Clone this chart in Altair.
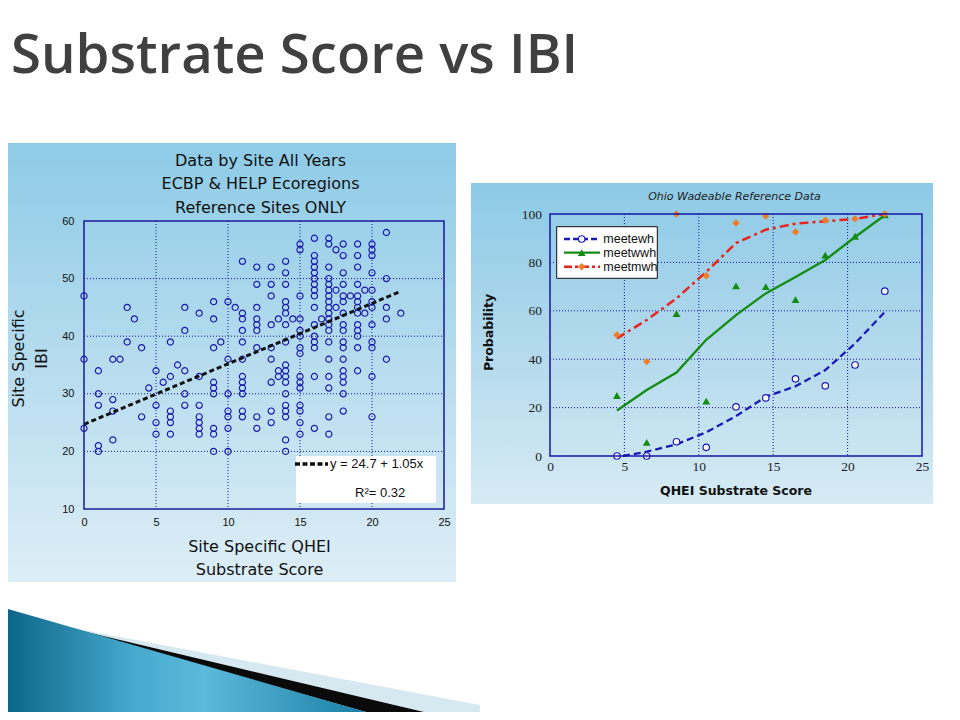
import altair as alt
import pandas as pd

# ---------------- left panel: site data ----------------
site_qhei = [0, 1, 2, 2.5, 3, 3.5, 4, 4.5, 5, 5.5, 6, 6.5, 7, 8, 9, 9.5, 10, 10.5,
             11, 12, 13, 13.5, 14, 14.5, 15, 16, 16.5, 17, 17.5, 18, 18.5, 19, 19.5,
             20, 21, 22]
site_ibi = [
    [47, 36, 24],
    [34, 30, 28, 21, 20],
    [36, 29, 27, 22],
    [36],
    [45, 39],
    [43],
    [38, 26],
    [31],
    [34, 28, 25, 23],
    [32],
    [39, 33, 27, 26, 25, 23],
    [35],
    [45, 41, 34, 30, 28],
    [44, 33, 28, 26, 25, 24, 23],
    [46, 43, 38, 32, 31, 30, 24, 23, 20],
    [39],
    [46, 36, 30, 27, 26, 24, 20],
    [45],
    [53, 44, 43, 41, 39, 36, 33, 32, 31, 30, 27, 26],
    [52, 49, 45, 43, 42, 41, 38, 26, 24],
    [52, 49, 47, 42, 38, 36, 32, 27, 25],
    [43, 34, 33],
    [53, 51, 49, 46, 45, 44, 42, 39, 35, 34, 33, 32, 30, 28, 27, 26, 22, 20],
    [43],
    [56, 55, 47, 43, 41, 40, 38, 37, 33, 32, 31, 28, 27, 25, 23],
    [57, 54, 53, 52, 51, 50, 49, 48, 47, 45, 42, 40, 39, 38, 33, 24],
    [43],
    [57, 56, 52, 50, 49, 48, 47, 46, 45, 44, 43, 42, 41, 39, 36, 33, 31, 26, 23],
    [55, 48, 45],
    [56, 54, 51, 49, 47, 46, 44, 42, 41, 39, 38, 36, 34, 33, 32, 30, 27],
    [47],
    [56, 54, 52, 49, 47, 46, 45, 44, 42, 41, 40, 38, 34],
    [48, 44],
    [56, 55, 54, 51, 48, 46, 45, 42, 39, 38, 33, 26],
    [58, 50, 45, 43, 36],
    [44],
]
reg_x = [0, 22]
reg_y = [24.7, 47.8]
left_x_ticks = [0, 5, 10, 15, 20, 25]
left_y_ticks = [10, 20, 30, 40, 50, 60]
left_x_grid = [5, 10, 15, 20]
left_y_grid = [20, 30, 40, 50]

# ---------------- right panel: probability data ----------------
bin_x = [4.5, 6.5, 8.5, 10.5, 12.5, 14.5, 16.5, 18.5, 20.5, 22.5]
ewh_obs = [0, 0, 5.9, 3.6, 20.3, 24, 31.9, 29, 37.6, 68.1]
wwh_obs = [25, 5.6, 58.8, 22.7, 70.3, 70, 64.6, 83, 90.8, 99.7]
mwh_obs = [50, 39, 100, 74.5, 96.3, 99.2, 92.6, 97.4, 98, 100]
ewh_fit_x = [4.9, 6.5, 8.5, 10.5, 12.5, 14.5, 16.5, 18.5, 20.5, 22.5]
ewh_fit = [0, 1.8, 4.8, 9.8, 16.5, 24.5, 28.8, 35.5, 46.5, 59.5]
wwh_fit = [18.8, 27.3, 34.5, 48, 58.2, 67.2, 74, 81, 90.5, 99.5]
mwh_fit = [48.6, 56.2, 65.1, 76.1, 88, 93.5, 96, 97, 98, 100]
right_x_ticks = [0, 5, 10, 15, 20, 25]
right_y_ticks = [0, 20, 40, 60, 80, 100]
right_x_grid = [5, 10, 15, 20]
right_y_grid = [20, 40, 60, 80]

one = pd.DataFrame({"k": [0]})

def vgrad(c0, c1, c2):
    return alt.Gradient(gradient="linear", x1=0, y1=0, x2=0, y2=1,
                        stops=[alt.GradientStop(color=c0, offset=0),
                               alt.GradientStop(color=c1, offset=0.5),
                               alt.GradientStop(color=c2, offset=1)])

def box(x0, x1, y0, y1, **kw):
    return alt.Chart(one).mark_rect(**kw).encode(
        x=alt.value(x0), x2=alt.value(x1), y=alt.value(y0), y2=alt.value(y1))

def label(txt, x, y, **kw):
    return alt.Chart(one).mark_text(text=txt, **kw).encode(x=alt.value(x), y=alt.value(y))

def hrule(x0, x1, y, **kw):
    return alt.Chart(one).mark_rule(**kw).encode(
        x=alt.value(x0), x2=alt.value(x1), y=alt.value(y))

# ======================= LEFT CHART =======================
LW, LH, LTOP = 360, 295, 7
xs_l = alt.Scale(domain=[0, 25], nice=False, zero=False)
ys_l = alt.Scale(domain=[10, 60], nice=False, zero=False, range=[LH, LTOP])
xax_l = alt.Axis(values=left_x_ticks, grid=False, domain=False, ticks=False, tickSize=0,
                 labelFont="Liberation Sans", labelFontSize=11, labelColor="#111111",
                 labelPadding=7.5, labelFlush=False, labelOverlap=False,
                 title=["Site Specific QHEI", "Substrate Score"], titleFont="DejaVu Sans",
                 titleFontSize=16, titleFontWeight="normal", titleColor="#111111",
                 titleX=175, titleY=29, titleBaseline="top", titleAlign="center",
                 titleLineHeight=23, zindex=1)
yax_l = alt.Axis(values=left_y_ticks, grid=False, domain=False, ticks=False, tickSize=0,
                 labelFont="Liberation Sans", labelFontSize=11, labelColor="#111111",
                 labelPadding=10, labelOverlap=False,
                 title=["Site Specific", "IBI"], titleFont="DejaVu Sans",
                 titleFontSize=16, titleFontWeight="normal", titleColor="#111111",
                 titleX=-74, titleY=144, titleBaseline="top", titleAlign="center",
                 titleAngle=270, titleLineHeight=23, zindex=1)

scatter_df = pd.DataFrame([(x, y) for x, ys in zip(site_qhei, site_ibi) for y in ys],
                          columns=["qhei", "ibi"])
reg_df = pd.DataFrame({"qhei": reg_x, "ibi": reg_y})
lxg = pd.DataFrame({"qhei": left_x_grid})
lyg = pd.DataFrame({"ibi": left_y_grid})

X_l = alt.X("qhei:Q", scale=xs_l, axis=xax_l)
Y_l = alt.Y("ibi:Q", scale=ys_l, axis=yax_l)

# slide background and slide art (positions relative to slide origin)
OX, OY = -76, -206
slide_bg = box(OX, OX + 944, OY, OY + 704, color="white")
teal = alt.Gradient(gradient="linear", x1=0, y1=0, x2=1, y2=0,
                    stops=[alt.GradientStop(color="#0d6688", offset=0),
                           alt.GradientStop(color="#45a9cd", offset=0.35),
                           alt.GradientStop(color="#5cbadb", offset=0.55),
                           alt.GradientStop(color="#1a7fa5", offset=1)])
def art(path, fill):
    return alt.Chart(one).mark_point(shape=path, size=4, filled=True, fill=fill,
                                     strokeWidth=0, opacity=1).encode(
        x=alt.value(OX), y=alt.value(OY))
art_light = art("M49,617 L472,697 L472,704 L416,704 Z", "#d6e9f1")
art_black = art("M49,617 L416,704 L358,704 Z", "#0a0a0a")
art_teal = art("M0,601 L358,704 L0,704 Z", teal)

left_bg = box(-76, 372, -71, 368, fill=vgrad("#8ecbe7", "#b6dcee", "#ddeef6"))

lgrid_x = alt.Chart(lxg).mark_rule(color="#1414a8", strokeWidth=1, strokeDash=[1, 2]).encode(
    x=X_l, y=alt.value(LTOP), y2=alt.value(LH))
lgrid_y = alt.Chart(lyg).mark_rule(color="#1414a8", strokeWidth=1, strokeDash=[1, 2]).encode(
    y=Y_l, x=alt.value(0), x2=alt.value(LW))

pts = alt.Chart(scatter_df).mark_point(shape="circle", filled=False, color="#1c1cab",
                                       size=38, strokeWidth=1.2, opacity=1).encode(x=X_l, y=Y_l)
reg = alt.Chart(reg_df).mark_line(color="#111111", strokeWidth=3, strokeDash=[5, 3]).encode(
    x=X_l, y=Y_l)

leg_box = box(212, 352, 242, 289, color="white")
leg_line = hrule(211, 244, 250, color="#111111", strokeWidth=3.5, strokeDash=[5, 2.5])
leg_t1 = label("y = 24.7 + 1.05x", 246, 250, align="left", baseline="middle",
               font="Liberation Sans", fontSize=13, color="#111111")
leg_t2 = label("R²= 0.32", 271, 279, align="left", baseline="middle",
               font="Liberation Sans", fontSize=13, color="#111111")

left_border = box(0, LW, LTOP, LH, filled=False, color="#1a1a9c", strokeWidth=1.5)

lt1 = label("Data by Site All Years", 176.5, -53, align="center", baseline="middle",
            font="DejaVu Sans", fontSize=16, color="#111111")
lt2 = label("ECBP & HELP Ecoregions", 176.5, -30, align="center", baseline="middle",
            font="DejaVu Sans", fontSize=16, color="#111111")
lt3 = label("Reference Sites ONLY", 176.5, -6, align="center", baseline="middle",
            font="DejaVu Sans", fontSize=16, color="#111111")

main_title = label("Substrate Score vs IBI", -73, -141, align="left", baseline="alphabetic",
                   font="Open Sans", fontSize=54.5, fontWeight=600, color="#404040")

left = alt.layer(slide_bg, art_light, art_black, art_teal, left_bg, lgrid_x, lgrid_y,
                 pts, reg, leg_box, leg_line, leg_t1, leg_t2, left_border,
                 lt1, lt2, lt3, main_title).properties(width=LW, height=LH)

# ======================= RIGHT CHART =======================
RW, RH = 372, 242
xs_r = alt.Scale(domain=[0, 25], nice=False, zero=False)
ys_r = alt.Scale(domain=[0, 100], nice=False, zero=False)
xax_r = alt.Axis(values=right_x_ticks, grid=False, domain=False, ticks=False, tickSize=0,
                 labelFont="Liberation Serif", labelFontSize=13.5, labelColor="#222222",
                 labelPadding=3, labelFlush=False, labelOverlap=False,
                 title="QHEI Substrate Score", titleFont="DejaVu Sans", titleFontSize=12.5,
                 titleFontWeight="bold", titleColor="#111111", titleX=185.5, titleY=28.6,
                 titleBaseline="top", titleAlign="center", zindex=1)
yax_r = alt.Axis(values=right_y_ticks, grid=False, domain=False, ticks=False, tickSize=0,
                 labelFont="Liberation Serif", labelFontSize=13.5, labelColor="#222222",
                 labelPadding=8.5, labelOverlap=False,
                 title="Probability", titleFont="DejaVu Sans", titleFontSize=12.5,
                 titleFontWeight="bold", titleColor="#111111", titleX=-67.3, titleY=118,
                 titleBaseline="top", titleAlign="center", titleAngle=270, zindex=1)
X_r = alt.X("score:Q", scale=xs_r, axis=xax_r)
Y_r = alt.Y("prob:Q", scale=ys_r, axis=yax_r)

right_bg = box(-79, 383, -31, 290, fill=vgrad("#8ccae6", "#b2d9ec", "#d6ebf4"))
rgrid_x = alt.Chart(pd.DataFrame({"score": right_x_grid})).mark_rule(
    color="#1414a8", strokeWidth=1, strokeDash=[1, 2]).encode(
    x=X_r, y=alt.value(0), y2=alt.value(RH))
rgrid_y = alt.Chart(pd.DataFrame({"prob": right_y_grid})).mark_rule(
    color="#1414a8", strokeWidth=1, strokeDash=[1, 2]).encode(
    y=Y_r, x=alt.value(0), x2=alt.value(RW))

C_EWH, C_WWH, C_MWH, C_MWH_PT = "#1a1ab4", "#148c14", "#e8231d", "#ef7d2b"
line_ewh = alt.Chart(pd.DataFrame({"score": ewh_fit_x, "prob": ewh_fit})).mark_line(
    color=C_EWH, strokeWidth=2.3, strokeDash=[7, 4]).encode(x=X_r, y=Y_r)
line_wwh = alt.Chart(pd.DataFrame({"score": bin_x, "prob": wwh_fit})).mark_line(
    color=C_WWH, strokeWidth=2.3).encode(x=X_r, y=Y_r)
line_mwh = alt.Chart(pd.DataFrame({"score": bin_x, "prob": mwh_fit})).mark_line(
    color=C_MWH, strokeWidth=2.5, strokeDash=[9, 4, 3, 4]).encode(x=X_r, y=Y_r)
pt_ewh = alt.Chart(pd.DataFrame({"score": bin_x, "prob": ewh_obs})).mark_point(
    shape="circle", filled=True, fill="white", stroke=C_EWH, strokeWidth=1.2,
    size=42, opacity=1).encode(x=X_r, y=Y_r)
pt_wwh = alt.Chart(pd.DataFrame({"score": bin_x, "prob": wwh_obs})).mark_point(
    shape="triangle-up", filled=True, color=C_WWH, size=62, opacity=1).encode(x=X_r, y=Y_r)
pt_mwh = alt.Chart(pd.DataFrame({"score": bin_x, "prob": mwh_obs})).mark_point(
    shape="diamond", filled=True, color=C_MWH_PT, size=55, opacity=1).encode(x=X_r, y=Y_r)

rleg_box = box(6.7, 107.3, 12.7, 64.3, color="white", stroke="#111111", strokeWidth=1)
def leg_item(name, y, line_kw, pt_kw):
    ln = hrule(14, 50, y, **line_kw)
    mk = alt.Chart(one).mark_point(opacity=1, **pt_kw).encode(x=alt.value(31.7), y=alt.value(y))
    tx = label(name, 53.3, y, align="left", baseline="middle", font="Liberation Sans",
               fontSize=12.5, color="#111111")
    return [ln, mk, tx]
leg_items = (
    leg_item("meetewh", 25, dict(color=C_EWH, strokeWidth=2.3, strokeDash=[6, 3]),
             dict(shape="circle", filled=True, fill="white", stroke=C_EWH, strokeWidth=1.2, size=42))
    + leg_item("meetwwh", 38.7, dict(color=C_WWH, strokeWidth=2.3),
               dict(shape="triangle-up", filled=True, color=C_WWH, size=62))
    + leg_item("meetmwh", 52.7, dict(color=C_MWH, strokeWidth=2.5, strokeDash=[8, 3, 3, 3]),
               dict(shape="diamond", filled=True, color=C_MWH_PT, size=55))
)
right_border = box(0, RW, 0, RH, filled=False, color="#1616a6", strokeWidth=1.5)
rtitle = label("Ohio Wadeable Reference Data", 184.5, -17.3, align="center", baseline="middle",
               font="DejaVu Sans", fontSize=11, fontStyle="italic", color="#222222")

right = alt.layer(right_bg, rgrid_x, rgrid_y, line_ewh, line_wwh, line_mwh,
                  pt_ewh, pt_wwh, pt_mwh, rleg_box, *leg_items, right_border,
                  rtitle).properties(width=RW, height=RH)

chart = alt.hconcat(left, right, spacing=106, bounds="flush").properties(
    padding=0).configure_view(stroke=None)

chart.save("out.html", embed_options={"renderer": "svg", "actions": False})
